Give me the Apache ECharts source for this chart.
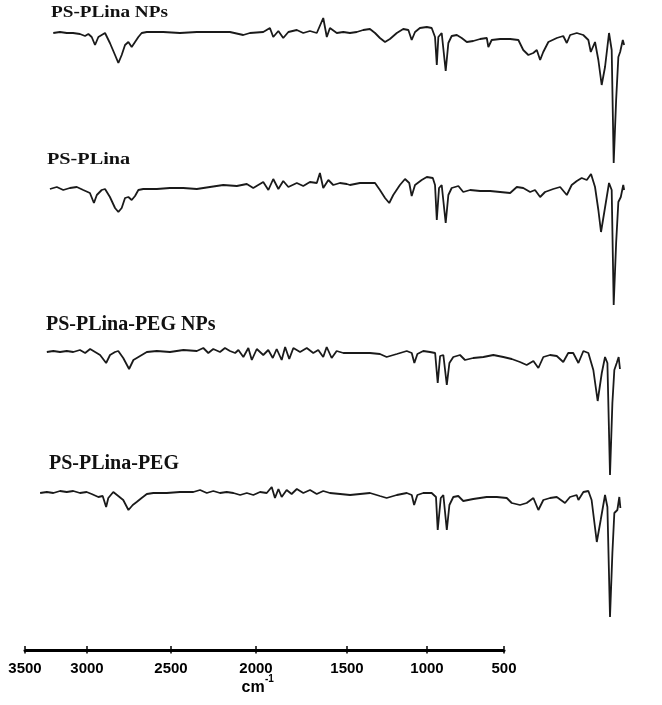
<!DOCTYPE html>
<html>
<head>
<meta charset="utf-8">
<script src="https://cdn.jsdelivr.net/npm/echarts@6/dist/echarts.min.js"></script>
<style>
html,body{margin:0;padding:0;background:#fff;}
#chart{width:662px;height:705px;}
</style>
</head>
<body>
<div id="chart"></div>
<script>
// ---- Data (wavenumber in cm^-1, transmittance in arbitrary units) ----
const names = ['PS-PLina NPs', 'PS-PLina', 'PS-PLina-PEG NPs', 'PS-PLina-PEG'];

const wn1 = [3217,3187,3156,3128,3097,3074,3059,3044,3029,3014,2999,2984,2962,2939,2924,2909,2894,2879,2864,2849,2834,2819,2796,2722,2647,2571,2497,2422,2362,2332,2272,2242,2227,2204,2182,2159,2121,2092,2062,2031,2002,1986,1972,1941,1912,1882,1851,1822,1792,1769,1747,1724,1702,1671,1642,1619,1604,1589,1567,1536,1514,1499,1491,1484,1469,1451,1439,1424,1401,1379,1356,1327,1296,1266,1259,1244,1206,1161,1124,1102,1079,1057,1041,1026,1012,989,951,922,906,891,861,832,809,798,779,764,749,734,716,704,695,684,674,666,654,648];
const t1 = [135,136,135,135,134,132,134,131,123,131,133,135,125,113,105,113,123,126,121,126,131,135,136,136,135,136,136,136,133,135,136,140,131,137,130,136,138,135,137,135,150,131,140,135,136,135,136,138,139,135,130,126,129,135,139,138,128,136,140,141,140,131,103,131,135,97,125,132,133,130,126,127,129,130,121,128,129,129,128,118,113,115,118,108,116,126,130,132,125,133,135,133,128,116,126,108,83,101,135,118,5,68,111,116,128,123];

const wn2 = [3232,3201,3172,3142,3111,3082,3052,3034,3021,2999,2984,2962,2939,2924,2909,2894,2879,2864,2849,2834,2812,2751,2692,2632,2571,2512,2452,2391,2346,2317,2272,2249,2227,2204,2182,2159,2121,2092,2062,2031,2017,2002,1979,1957,1927,1896,1882,1837,1769,1747,1724,1705,1687,1657,1634,1615,1604,1589,1559,1536,1509,1499,1491,1481,1469,1451,1439,1424,1394,1372,1341,1296,1251,1206,1161,1131,1102,1071,1049,1026,1004,967,936,906,884,861,839,816,797,779,764,752,738,716,704,695,684,674,663,652,648];
const t2 = [132,134,131,133,134,131,128,118,126,131,132,124,113,109,113,123,124,121,125,131,132,132,133,133,132,134,136,135,137,133,139,131,142,132,140,134,138,135,139,138,148,133,141,136,138,137,136,138,138,131,123,118,126,136,142,138,125,136,141,144,143,136,101,133,136,98,126,133,135,129,131,130,130,129,128,134,133,129,131,124,129,132,134,126,136,140,143,141,147,134,111,89,108,138,131,16,78,119,124,136,131];

const wn3 = [3299,3269,3238,3207,3177,3146,3122,3099,3076,3053,3025,3007,2984,2969,2946,2919,2899,2868,2837,2791,2730,2668,2606,2576,2553,2530,2499,2476,2453,2429,2414,2391,2368,2352,2329,2299,2276,2255,2237,2214,2198,2179,2160,2129,2098,2068,2045,2022,2006,1983,1960,1929,1898,1852,1806,1760,1729,1682,1636,1613,1601,1587,1560,1529,1505,1493,1482,1467,1451,1439,1421,1390,1367,1329,1282,1236,1190,1151,1113,1082,1051,1028,1005,974,943,913,890,867,843,820,797,774,754,735,720,709,697,686,677,666,657,651];
const t3 = [135,136,135,136,135,137,134,138,135,132,124,132,135,136,129,118,127,131,135,136,135,137,136,139,134,138,135,139,136,134,137,130,139,127,138,132,137,129,138,127,140,128,139,135,139,134,137,130,140,129,136,134,134,134,134,133,130,133,136,134,124,133,136,135,134,104,131,132,102,124,130,132,127,129,130,132,130,128,125,122,126,119,130,132,131,125,134,134,124,136,134,117,86,114,130,124,12,84,117,124,130,118];

const wn4 = [3330,3299,3269,3238,3207,3177,3146,3115,3092,3061,3041,3025,3015,2992,2969,2946,2922,2902,2884,2861,2837,2807,2745,2684,2622,2591,2560,2530,2499,2468,2437,2406,2375,2345,2314,2283,2260,2245,2229,2214,2191,2168,2144,2114,2083,2052,2022,1991,1944,1898,1852,1806,1760,1729,1682,1636,1613,1602,1587,1560,1521,1501,1493,1479,1467,1451,1439,1421,1398,1375,1329,1267,1220,1174,1151,1113,1082,1051,1028,1005,974,943,905,882,851,843,820,797,782,758,740,720,709,697,686,677,663,654,649];
const t4 = [135,136,135,137,136,137,135,136,134,131,132,121,130,136,132,128,118,123,126,130,134,135,135,136,136,138,135,137,135,136,135,133,135,133,136,135,141,130,139,131,138,134,139,135,138,134,137,135,134,133,134,135,132,130,133,135,133,123,133,135,135,131,98,130,133,98,123,131,132,127,129,131,131,130,125,123,125,130,118,128,130,131,125,131,133,128,136,137,128,86,108,133,121,11,75,115,118,131,120];

const xTicks = [3500, 3000, 2500, 2000, 1500, 1000, 500];

// ---- Layout ----
const traceGrids = [
  {left: 23.7, width: 611.1, top: 18,  height: 150},
  {left: 23.7, width: 611.1, top: 171, height: 150},
  {left: 35.8, width: 595.2, top: 337, height: 150},
  {left: 35.8, width: 595.2, top: 478, height: 150}
];
const tickPx = [25, 87, 171, 256, 347, 427, 504];
const axisY = 649;

const allWn = [wn1, wn2, wn3, wn4];
const allT = [t1, t2, t3, t4];

const grid = [], xAxis = [], yAxis = [], series = [];
traceGrids.forEach((g, i) => {
  grid.push(Object.assign({containLabel: false}, g));
  xAxis.push({type: 'value', gridIndex: i, min: 600, max: 3350, inverse: true, show: false});
  yAxis.push({type: 'value', gridIndex: i, min: 0, max: 150, show: false});
  series.push({
    name: names[i], type: 'line', xAxisIndex: i, yAxisIndex: i,
    data: allWn[i].map((w, k) => [w, allT[i][k]]),
    showSymbol: false, symbol: 'none', clip: false, smooth: false,
    lineStyle: {color: '#1a1a1a', width: 1.8}
  });
});

// visible wavenumber axis (drawn in segments to follow the original tick spacing)
const labelStyle = {fontFamily: '"Liberation Sans", Arial, sans-serif', fontWeight: 'bold', fontSize: 15, color: '#000', margin: 11,
  formatter: v => String(v)};
for (let j = 0; j < xTicks.length - 1; j++) {
  const gi = grid.length;
  grid.push({left: tickPx[j], width: tickPx[j + 1] - tickPx[j], top: axisY, height: 1, containLabel: false});
  xAxis.push({
    type: 'value', gridIndex: gi, position: 'bottom', min: xTicks[j + 1], max: xTicks[j], interval: 500, inverse: true,
    axisLine: {show: true, lineStyle: {color: '#000', width: 3}},
    axisTick: {show: true, inside: false, length: 3.5, lineStyle: {color: '#000', width: 1.5}},
    axisLabel: Object.assign({showMaxLabel: j === 0, showMinLabel: true}, labelStyle),
    splitLine: {show: false}
  });
  xAxis.push({
    type: 'value', gridIndex: gi, position: 'top', min: xTicks[j + 1], max: xTicks[j], interval: 500, inverse: true,
    axisLine: {show: false},
    axisTick: {show: true, inside: false, length: 3, lineStyle: {color: '#000', width: 1.5}},
    axisLabel: {show: false},
    splitLine: {show: false}
  });
  yAxis.push({type: 'value', gridIndex: gi, show: false});
}

const serif = '"Liberation Serif", "Times New Roman", serif';
const graphic = [
  {type: 'text', x: 51, y: 12.5, scaleX: 1.13, style: {text: names[0], font: 'bold 17px ' + serif, fill: '#111', align: 'left', verticalAlign: 'middle'}},
  {type: 'text', x: 47, y: 159.5, scaleX: 1.19, style: {text: names[1], font: 'bold 17px ' + serif, fill: '#111', align: 'left', verticalAlign: 'middle'}},
  {type: 'text', x: 46, y: 325, style: {text: names[2], font: 'bold 20px ' + serif, fill: '#111', align: 'left', verticalAlign: 'middle'}},
  {type: 'text', x: 49, y: 463.5, style: {text: names[3], font: 'bold 20px ' + serif, fill: '#111', align: 'left', verticalAlign: 'middle'}},
  {type: 'text', x: 241.5, y: 687.5, style: {text: 'cm', font: 'bold 16px "Liberation Sans", Arial, sans-serif', fill: '#000', align: 'left', verticalAlign: 'middle'}},
  {type: 'text', x: 265, y: 679, style: {text: '-1', font: 'bold 10px "Liberation Sans", Arial, sans-serif', fill: '#000', align: 'left', verticalAlign: 'middle'}}
];

const chart = echarts.init(document.getElementById('chart'), null, {renderer: 'canvas'});
chart.setOption({
  backgroundColor: '#fff',
  animation: false,
  grid, xAxis, yAxis, series, graphic
});
</script>
</body>
</html>
